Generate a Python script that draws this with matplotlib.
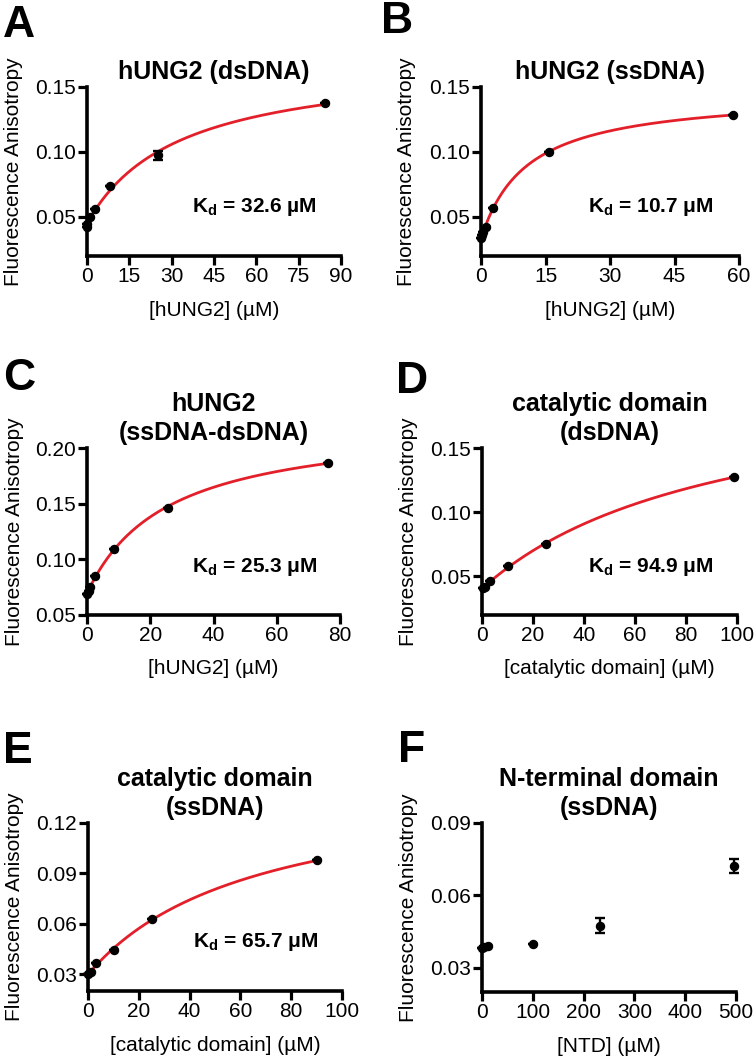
import numpy as np
import matplotlib
matplotlib.use("Agg")
import matplotlib.pyplot as plt

plt.rcParams['font.family'] = ['Liberation Sans', 'DejaVu Sans']
plt.rcParams['mathtext.fontset'] = 'custom'
plt.rcParams['mathtext.rm'] = 'Liberation Sans'
plt.rcParams['mathtext.bf'] = 'Liberation Sans:bold'

# data (concentration in uM, anisotropy)
A_x = [0.0, 0.1, 0.9, 2.7, 8.1, 25.3, 84.3]
A_y = [0.0425, 0.0445, 0.0500, 0.0560, 0.0735, 0.0975, 0.1374]
A_err = [0, 0, 0, 0, 0, 0.0036, 0]
A_kd = 32.6

B_x = [0.0, 0.2, 0.5, 1.2, 2.7, 15.9, 58.5]
B_y = [0.0335, 0.0360, 0.0384, 0.0422, 0.0570, 0.1000, 0.1288]
B_err = [0, 0, 0, 0, 0, 0, 0]
B_kd = 10.7

C_x = [0.0, 0.5, 1.0, 2.5, 8.4, 25.5, 76.2]
C_y = [0.0689, 0.0718, 0.0749, 0.0850, 0.1090, 0.1460, 0.1868]
C_err = [0, 0, 0, 0, 0, 0, 0]
C_kd = 25.3

D_x = [0.3, 1.2, 3.3, 10.1, 25.0, 98.7]
D_y = [0.0412, 0.0415, 0.0467, 0.0580, 0.0753, 0.1273]
D_err = [0, 0, 0, 0, 0, 0]
D_kd = 94.9

E_x = [0.0, 1.2, 3.1, 10.2, 25.1, 90.2]
E_y = [0.0300, 0.0314, 0.0364, 0.0443, 0.0626, 0.0978]
E_err = [0, 0, 0, 0, 0, 0]
E_kd = 65.7

F_x = [0.0, 3.0, 11.0, 100.0, 231.6, 496.7]
F_y = [0.0381, 0.0385, 0.0391, 0.0399, 0.0475, 0.0722]
F_err = [0, 0, 0, 0, 0.0030, 0.0028]

RED = '#E3202A'


def draw_panel(ax, x, y, err, kd, mu, xlim, xticks, ylim, yticks, title, xlabel):
    x = np.array(x)
    y = np.array(y)
    if kd is not None:
        # one site binding, y0 and Bmax fitted for the given Kd
        A = np.column_stack([np.ones_like(x), x / (kd + x)])
        (y0, bmax), *_ = np.linalg.lstsq(A, y, rcond=None)
        xf = np.linspace(x.min(), x.max(), 300)
        ax.plot(xf, y0 + bmax * xf / (kd + xf), color=RED, lw=2.0, zorder=2)
        ax.text(0.415, 0.29, r'$\mathbf{K_d}$ = %.1f %sM' % (kd, mu), transform=ax.transAxes,
                fontsize=15, fontweight='bold', ha='left', va='center')
    ax.errorbar(x, y, yerr=err, fmt='o', color='black', ms=5.8, capsize=3.6,
                elinewidth=1.7, capthick=1.7, clip_on=False, zorder=3)
    ax.set_xlim(xlim)
    ax.set_ylim(ylim)
    ax.set_xticks(xticks)
    ax.set_yticks(yticks)
    ax.set_yticklabels(['%.2f' % t for t in yticks])
    for s in ['top', 'right']:
        ax.spines[s].set_visible(False)
    for s in ['left', 'bottom']:
        ax.spines[s].set_linewidth(2.6)
    ax.tick_params(width=2.3, length=6.5, labelsize=15, pad=1.5)
    ax.set_ylabel('Fluorescence Anisotropy', fontsize=15)
    ax.set_xlabel(xlabel, fontsize=15)
    ax.yaxis.set_label_coords(-0.25, 0.5)
    ax.xaxis.set_label_coords(0.5, -0.265)
    kw = dict(transform=ax.transAxes, ha='center', va='baseline', fontsize=18, fontweight='bold')
    if len(title) == 1:
        ax.text(0.5, 1.045, title[0], **kw)
    else:
        ax.text(0.5, 1.221, title[0], **kw)
        ax.text(0.5, 1.048, title[1], **kw)


fig = plt.figure(figsize=(7.56, 10.6), dpi=100)
W, H = 756.0, 1060.0


def axes_px(left, top, right, bottom):
    return fig.add_axes([left / W, 1 - bottom / H, (right - left) / W, (bottom - top) / H])


axA = axes_px(87, 87, 341, 256)
axB = axes_px(481, 87, 739, 256)
axC = axes_px(87, 448, 340, 615)
axD = axes_px(482, 448, 737, 615)
axE = axes_px(88, 823, 342, 991)
axF = axes_px(482, 823, 736, 992)

draw_panel(axA, A_x, A_y, A_err, A_kd, '\u00b5', (0, 90), np.arange(0, 91, 15), (0.02, 0.15),
           [0.05, 0.10, 0.15], ['hUNG2 (dsDNA)'], '[hUNG2] (\u00b5M)')
draw_panel(axB, B_x, B_y, B_err, B_kd, '\u03bc', (0, 60), np.arange(0, 61, 15), (0.02, 0.15),
           [0.05, 0.10, 0.15], ['hUNG2 (ssDNA)'], '[hUNG2] (\u00b5M)')
draw_panel(axC, C_x, C_y, C_err, C_kd, '\u03bc', (0, 80), np.arange(0, 81, 20), (0.05, 0.20),
           [0.05, 0.10, 0.15, 0.20], ['hUNG2', '(ssDNA-dsDNA)'], '[hUNG2] (\u00b5M)')
draw_panel(axD, D_x, D_y, D_err, D_kd, '\u03bc', (0, 100), np.arange(0, 101, 20), (0.02, 0.15),
           [0.05, 0.10, 0.15], ['catalytic domain', '(dsDNA)'], '[catalytic domain] (\u00b5M)')
draw_panel(axE, E_x, E_y, E_err, E_kd, '\u03bc', (0, 100), np.arange(0, 101, 20), (0.02, 0.12),
           [0.03, 0.06, 0.09, 0.12], ['catalytic domain', '(ssDNA)'], '[catalytic domain] (\u00b5M)')
draw_panel(axF, F_x, F_y, F_err, None, '\u03bc', (0, 500), np.arange(0, 501, 100), (0.02, 0.09),
           [0.03, 0.06, 0.09], ['N-terminal domain', '(ssDNA)'], '[NTD] (\u00b5M)')

# panel letters
for lab, px, py in [('A', 3, 37), ('B', 381, 33), ('C', 3, 390),
                    ('D', 396, 393), ('E', 3, 763), ('F', 398, 762)]:
    fig.text(px / W, 1 - py / H, lab, fontsize=32, fontweight='bold', va='baseline', ha='left')

fig.savefig('out.png', dpi=100)
